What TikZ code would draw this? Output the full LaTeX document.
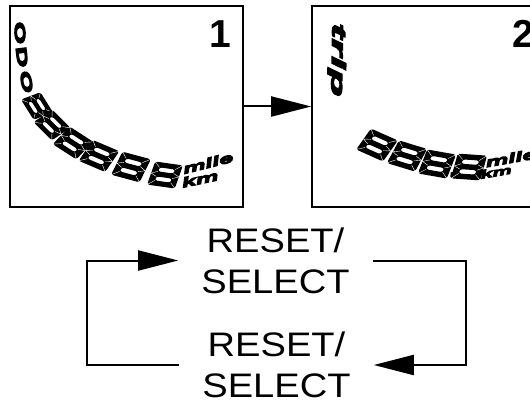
\documentclass[tikz,border=0pt]{standalone}
\usepackage{fontspec}
\setmainfont{Liberation Sans}
\newfontfamily\labelfont[FakeStretch=1.12]{Liberation Sans}
% heavy, widened faces for the LCD legends
\newfontfamily\lcdfont[FakeBold=8, FakeStretch=1.9]{Liberation Sans Bold Italic}
\newfontfamily\lcdwide[FakeBold=8, FakeStretch=2.4]{Liberation Sans Bold Italic}
\newfontfamily\lcdupright[FakeBold=9, FakeStretch=2]{Liberation Sans Bold}
\usetikzlibrary{arrows.meta}

\tikzset{
  panel/.style={draw=black, line width=1.6pt, inner sep=0pt,
    minimum width=233pt, minimum height=201pt},
  bignum/.style={font=\fontsize{39}{39}\selectfont\bfseries, inner sep=0pt},
  lcdletter/.style={font=\lcdupright\fontsize{14.5}{14.5}\selectfont, inner sep=0pt},
  lcdword/.style={font=\lcdwide\fontsize{19}{19}\selectfont, inner sep=0pt},
  unitword/.style={font=\lcdfont\fontsize{13.5}{13.5}\selectfont, inner sep=0pt},
  keylabel/.style={font=\labelfont\fontsize{34}{41}\selectfont, align=center,
    inner xsep=23pt, inner ysep=0pt},
  flow/.style={line width=2pt, -{Triangle[length=40pt,width=20pt]}},
  seg8/.pic={
    \fill[black, even odd rule, rounded corners=2.5pt]
      (-14,-12) rectangle (14,12)
      (-8,2.6) rectangle (8,6.8)
      (-8,-6.8) rectangle (8,-2.6);
    \draw[white, line width=0.4pt]
      (-14,12) -- (-8,6.8) (14,12) -- (8,6.8)
      (-14,-12) -- (-8,-6.8) (14,-12) -- (8,-6.8)
      (-14,0) -- (-8,2.6) (-14,0) -- (-8,-2.6)
      (14,0) -- (8,2.6) (14,0) -- (8,-2.6);
  },
  segdot/.pic={\fill[black, rounded corners=1pt] (-3,-3) rectangle (3,3);}
}

\begin{document}
\begin{tikzpicture}[x=1pt, y=1pt]
  \useasboundingbox (0,0) rectangle (530,-406);
  \clip (0,0) rectangle (530,-406);

  % the two display panels
  \node[panel] (p1) at (126.5,-106.5) {};
  \node[panel] (p2) at (428.5,-106.5) {};
  \draw[flow] (p1.east) -- (p2.west);

  \node[bignum] (n1) at (220,-34) {1};
  \node[bignum] (n2) at (523,-34) {2};

  % odometer display: ODO, six digits, units
  \node[lcdletter, rotate=-87] (o1) at (20,-33) {O};
  \node[lcdletter, rotate=-83] (o2) at (22,-57) {D};
  \node[lcdletter, rotate=-78] (o3) at (26.5,-82) {O};

  \pic[rotate=-58, xslant=0.2, scale=0.85] at (37,-106) {seg8};
  \pic[rotate=-45, xslant=0.2, scale=0.92] at (52,-125) {seg8};
  \pic[rotate=-33, xslant=0.2, scale=1.0] at (73,-143) {seg8};
  \pic[rotate=-23, xslant=0.2, scale=1.03] at (99,-156) {seg8};
  \pic[rotate=-15, xslant=0.2, scale=1.05] at (131,-167) {seg8};
  \pic[rotate=-8, xslant=0.2, scale=1.0] at (165,-175) {seg8};

  \node[unitword, rotate=14] (u1) at (208,-163) {mile};
  \node[unitword, rotate=12] (k1) at (200,-179) {km};

  % trip display: trip, 888.8, units
  \node[lcdword, rotate=-91] (t2) at (337,-60) {trip};

  \pic[rotate=-24, xslant=0.2, scale=1.05] at (377,-145) {seg8};
  \pic[rotate=-17, xslant=0.2, scale=1.05] at (407,-156) {seg8};
  \pic[rotate=-10, xslant=0.2, scale=1.05] at (437,-164) {seg8};
  \pic[rotate=-5] at (453.5,-175) {segdot};
  \pic[rotate=-4, xslant=0.2, scale=1.05] at (469,-167) {seg8};

  \node[unitword, rotate=10] (u2) at (511,-158) {mile};
  \node[unitword, rotate=10, scale=0.85] (k2) at (496,-172) {km};

  % button loop
  \node[keylabel] (top) at (275.5,-260.5) {RESET/\\SELECT};
  \node[keylabel] (bot) at (276.5,-365) {RESET/\\SELECT};
  \coordinate (lc) at (87,0);
  \coordinate (rc) at (466,0);
  \draw[flow] (bot.west) -| (lc |- top.west) -- (top.west);
  \draw[flow] (top.east) -| (rc |- bot.east) -- (bot.east);
\end{tikzpicture}
\end{document}
